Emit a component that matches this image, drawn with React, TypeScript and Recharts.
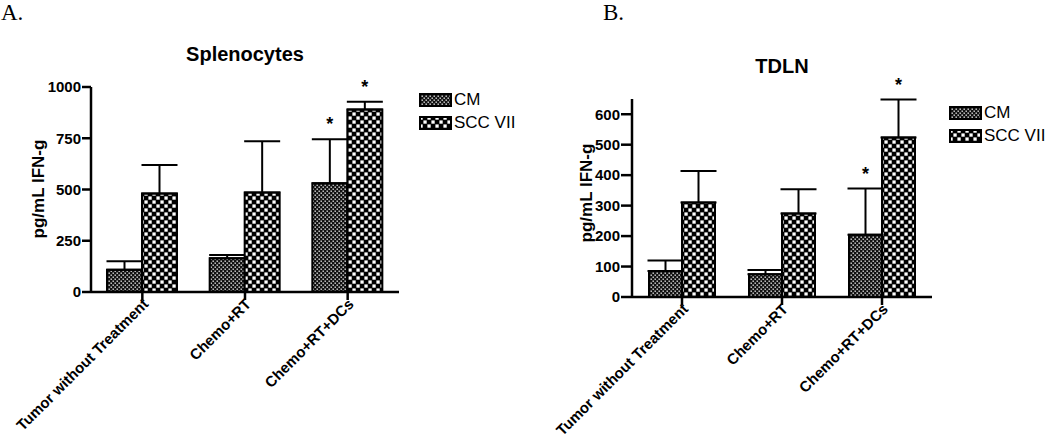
import React from 'react';
import { BarChart, Bar, XAxis, YAxis, ErrorBar, LabelList, Legend } from 'recharts';

const categories = ['Tumor without Treatment', 'Chemo+RT', 'Chemo+RT+DCs'];
const seriesNames = ['CM', 'SCC VII'];

// A. Splenocytes (pg/mL IFN-g, mean and upper SEM)
const splenoCM = [108, 165, 530];
const splenoCMSem = [42, 15, 215];
const splenoSCC = [480, 485, 890];
const splenoSCCSem = [140, 250, 38];
const splenoTicks = [0, 250, 500, 750, 1000];

// B. TDLN
const tdlnCM = [85, 75, 204];
const tdlnCMSem = [35, 14, 152];
const tdlnSCC = [310, 274, 524];
const tdlnSCCSem = [104, 80, 124];
const tdlnTicks = [0, 100, 200, 300, 400, 500, 600];

// significance markers
const starCM = [false, false, true];
const starSCC = [false, false, true];

const font = 'Arial, "Liberation Sans", sans-serif';

const Patterns = () => (
  <svg width={0} height={0} style={{ position: 'absolute' }}>
    <defs>
      <pattern id="cmPat" patternUnits="userSpaceOnUse" width={4} height={4}>
        <rect width={4} height={4} fill="#111" />
        <rect x={0.5} y={0.5} width={1.4} height={1.4} fill="#e0e0e0" />
        <rect x={2.5} y={2.5} width={1.4} height={1.4} fill="#e0e0e0" />
      </pattern>
      <pattern id="sccPat" patternUnits="userSpaceOnUse" width={8} height={8}>
        <rect width={8} height={8} fill="#000" />
        <rect x={0.4} y={0.4} width={3.3} height={3.3} fill="#fff" />
        <rect x={4.4} y={4.4} width={3.3} height={3.3} fill="#fff" />
      </pattern>
    </defs>
  </svg>
);

const XTick = (props: any) => {
  const { x, y, payload } = props;
  const tx = x + 7;
  const ty = y + 3;
  return (
    <text
      x={tx}
      y={ty}
      transform={`rotate(-45 ${tx} ${ty})`}
      textAnchor="end"
      fontSize={15}
      fontWeight="bold"
      fontFamily={font}
      fill="#000"
    >
      {payload.value}
    </text>
  );
};

const LegendBox = () => (
  <div style={{ fontFamily: font, fontSize: 17, color: '#000' }}>
    {seriesNames.map((n, i) => (
      <div key={n} style={{ display: 'flex', alignItems: 'center', height: 23 }}>
        <svg width={33} height={14}>
          <rect x={1} y={1} width={31} height={12} fill={i === 0 ? 'url(#cmPat)' : 'url(#sccPat)'} stroke="#000" strokeWidth={2} />
        </svg>
        <span style={{ marginLeft: 2 }}>{n}</span>
      </div>
    ))}
  </div>
);

type PanelProps = {
  title: string;
  cm: number[];
  cmSem: number[];
  scc: number[];
  sccSem: number[];
  ticks: number[];
  yMax: number;
  width: number;
  margin: { top: number; right: number; left: number; bottom: number };
  yAxisWidth: number;
  yTickSize: number;
  xAxisHeight: number;
  barSize: number;
  labelX: number;
  labelY: number;
  legendLeft: number;
  legendTop: number;
};

const Panel = (p: PanelProps) => {
  const data = categories.map((name, i) => ({
    name,
    cm: p.cm[i],
    cmErr: [0, p.cmSem[i]],
    scc: p.scc[i],
    sccErr: [0, p.sccSem[i]],
  }));

  const star = (vals: number[], sems: number[], flags: boolean[]) => (lp: any) => {
    const i = lp.index;
    if (i == null || !flags[i]) return null;
    const cx = Number(lp.x) + Number(lp.width) / 2;
    const top = Number(lp.y) - (sems[i] * Number(lp.height)) / vals[i];
    return (
      <text x={cx} y={top - 9} textAnchor="middle" fontSize={18} fontWeight="bold" fontFamily={font} fill="#000">
        *
      </text>
    );
  };

  const plotLeft = p.margin.left + p.yAxisWidth;
  const plotWidth = p.width - plotLeft - p.margin.right;

  return (
    <BarChart width={p.width} height={446} data={data} margin={p.margin} barGap={0} barSize={p.barSize}>
      <text
        x={plotLeft + plotWidth / 2}
        y={p.margin.top - 26}
        textAnchor="middle"
        fontSize={20}
        fontWeight="bold"
        fontFamily={font}
        fill="#000"
      >
        {p.title}
      </text>
      <XAxis
        dataKey="name"
        interval={0}
        height={p.xAxisHeight}
        tick={<XTick />}
        tickSize={8}
        tickMargin={2}
        axisLine={{ stroke: '#000', strokeWidth: 2.5 }}
        tickLine={{ stroke: '#000', strokeWidth: 2.5 }}
      />
      <YAxis
        domain={[0, p.yMax]}
        ticks={p.ticks}
        width={p.yAxisWidth}
        tickSize={p.yTickSize}
        tickMargin={1}
        interval={0}
        tick={{ fontSize: 15, fontWeight: 'bold', fontFamily: font, fill: '#000' }}
        axisLine={{ stroke: '#000', strokeWidth: 2.5 }}
        tickLine={{ stroke: '#000', strokeWidth: 2.5 }}
        label={{
          content: () => (
            <text
              x={p.labelX}
              y={p.labelY}
              transform={`rotate(-90 ${p.labelX} ${p.labelY})`}
              textAnchor="middle"
              fontSize={17}
              fontWeight="bold"
              fontFamily={font}
              fill="#000"
            >
              pg/mL IFN-g
            </text>
          ),
        }}
      />
      <Legend
        layout="vertical"
        align="center"
        verticalAlign="middle"
        content={<LegendBox />}
        wrapperStyle={{ left: p.legendLeft, top: p.legendTop, width: 'auto', height: 'auto' }}
      />
      <Bar dataKey="cm" name="CM" fill="url(#cmPat)" stroke="#000" strokeWidth={2} isAnimationActive={false}>
        <ErrorBar dataKey="cmErr" width={18} stroke="#000" strokeWidth={2} />
        <LabelList content={star(p.cm, p.cmSem, starCM)} />
      </Bar>
      <Bar dataKey="scc" name="SCC VII" fill="url(#sccPat)" stroke="#000" strokeWidth={2} isAnimationActive={false}>
        <ErrorBar dataKey="sccErr" width={18} stroke="#000" strokeWidth={2} />
        <LabelList content={star(p.scc, p.sccSem, starSCC)} />
      </Bar>
    </BarChart>
  );
};

const letterStyle: React.CSSProperties = {
  position: 'absolute',
  top: 1,
  fontFamily: '"Times New Roman", "Liberation Serif", serif',
  fontSize: 23,
  lineHeight: '23px',
  color: '#000',
};

export default function App() {
  return (
    <div style={{ position: 'absolute', left: 0, top: 0, width: 1050, height: 446, background: '#fff', overflow: 'hidden' }}>
      <Patterns />
      <div style={{ ...letterStyle, left: 1 }}>A.</div>
      <div style={{ ...letterStyle, left: 603 }}>B.</div>
      <div style={{ position: 'absolute', left: 0, top: 0 }}>
        <Panel
          title="Splenocytes"
          cm={splenoCM}
          cmSem={splenoCMSem}
          scc={splenoSCC}
          sccSem={splenoSCCSem}
          ticks={splenoTicks}
          yMax={1000}
          width={520}
          margin={{ top: 87, right: 121, left: 0, bottom: 4 }}
          yAxisWidth={91}
          yTickSize={9}
          xAxisHeight={150}
          barSize={35}
          labelX={44}
          labelY={189}
          legendLeft={419}
          legendTop={88}
        />
      </div>
      <div style={{ position: 'absolute', left: 520, top: 0 }}>
        <Panel
          title="TDLN"
          cm={tdlnCM}
          cmSem={tdlnCMSem}
          scc={tdlnSCC}
          sccSem={tdlnSCCSem}
          ticks={tdlnTicks}
          yMax={650}
          width={530}
          margin={{ top: 99, right: 118, left: 0, bottom: 4 }}
          yAxisWidth={112}
          yTickSize={11}
          xAxisHeight={145}
          barSize={33}
          labelX={72}
          labelY={193}
          legendLeft={429}
          legendTop={101}
        />
      </div>
    </div>
  );
}
